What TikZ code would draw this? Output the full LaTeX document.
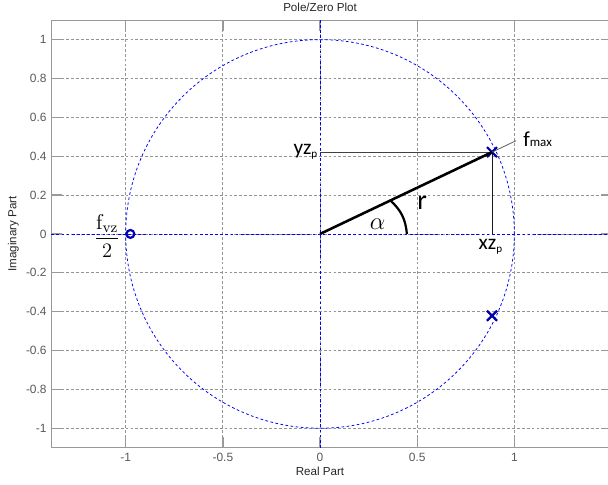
\documentclass[tikz,border=0pt]{standalone}
\usepackage{fontspec}
\newfontfamily\arialfont{Liberation Sans}
\newfontfamily\califont{Carlito}
\usetikzlibrary{calc,shapes.misc}

\begin{document}
\begin{tikzpicture}[x=4cm, y=4cm, line width=0.5pt,
    gridline/.style={black!42, line width=0.5pt, dash pattern=on 1.7pt off 1.2pt},
    axframe/.style={black!40, line width=0.8pt},
    unitline/.style={blue, line width=0.45pt, dash pattern=on 1.6pt off 1.4pt},
    ticklab/.style={font=\arialfont\fontsize{7}{8}\selectfont, text=black!65, inner sep=0pt},
    axlab/.style={font=\arialfont\fontsize{6.8}{8}\selectfont, text=black!85, inner sep=0pt},
    ann/.style={font=\califont\fontsize{12.5}{14}\selectfont, inner sep=0pt},
    greek/.style={font=\fontsize{15}{16}\selectfont, inner sep=0pt},
    pzmark/.style={draw=blue!70!black, line width=1.3pt, inner sep=0pt}]
  \useasboundingbox (-1.647,-1.287) rectangle (1.482,1.204);
  \clip (-1.647,-1.287) rectangle (1.482,1.204);
  \foreach \x in {-1,-0.5,0,0.5,1}
    \draw[gridline] (\x,-1.1) -- (\x,1.1);
  \foreach \y in {-1,-0.8,-0.6,-0.4,-0.2,0,0.2,0.4,0.6,0.8,1}
    \draw[gridline] (-1.383,\y) -- (1.5,\y);
  \draw[axframe] (-1.383,-1.1) rectangle (1.5,1.1);
  \foreach \x [count=\i] in {-1,-0.5,0,0.5,1} {
    \draw[axframe] (\x,-1.1) -- ++(0,0.055);
    \draw[axframe] (\x,1.1) -- ++(0,-0.055);
    \node[ticklab, anchor=north] (xl\i) at (\x,-1.127) {\x};
  }
  \foreach \y [count=\i] in {-1,-0.8,-0.6,-0.4,-0.2,0,0.2,0.4,0.6,0.8,1} {
    \draw[axframe] (-1.383,\y) -- ++(0.055,0);
    \draw[axframe] (1.5,\y) -- ++(-0.055,0);
    \node[ticklab, anchor=east] (yl\i) at (-1.405,\y) {\y};
  }
  \node[axlab] (title) at (0,1.165) {Pole/Zero Plot};
  \node[axlab] (xlabel) at (0,-1.222) {Real Part};
  \node[axlab, rotate=90] (ylabel) at (-1.578,0) {Imaginary Part};

  \draw[unitline] (0,0) circle (1);
  \draw[unitline] (-1.383,0) -- (1.5,0);
  \draw[unitline] (0,-1.1) -- (0,1.1);

  \coordinate (O) at (0,0);
  \node[pzmark, circle, minimum size=4.6pt] (Z) at (-0.976,0) {};
  \node[pzmark, cross out, minimum size=4.6pt] (P1) at (0.885,0.421) {};
  \node[pzmark, cross out, minimum size=4.6pt] (P2) at (0.885,-0.421) {};
  \coordinate (F) at (1.008,0.4795);
  \coordinate (A1) at (0.362,0.172);
  \coordinate (A2) at (0.447,0);

  \draw[black!75] (O |- P1) -- (P1.center);
  \draw[black!90] (P1.center) -- (P1 |- O);
  \draw[black!65, line width=0.45pt] (P1.center) -- (F);
  \draw[line width=1.5pt] (O) -- (P1.center);
  \draw[line width=1.3pt] (A1) to[out=-42, in=95] (A2);

  \node[ann, anchor=base east] (yz) at (-0.012,0.41) {yz\raisebox{-0.3ex}{\fontsize{6.5}{7}\selectfont p}};
  \node[ann, anchor=base] (xz) at (0.877,-0.082) {xz\raisebox{-0.3ex}{\fontsize{6.5}{7}\selectfont p}};
  \node[ann, anchor=base west] (fmax) at (1.044,0.448) {f{\fontsize{7.6}{8}\selectfont max}};
  \node[ann, font=\califont\fontsize{16}{17}\selectfont, anchor=base] (r) at (0.525,0.124) {r};
  \node[greek, anchor=base] (alpha) at (0.296,0.021) {$\alpha$};
  \node[font=\fontsize{12.5}{14}\selectfont, inner sep=0pt] (fvz) at (-1.095,-0.012) {$\displaystyle\frac{\mathrm{f}_{\mathrm{vz}}}{2}$};
\end{tikzpicture}
\end{document}
